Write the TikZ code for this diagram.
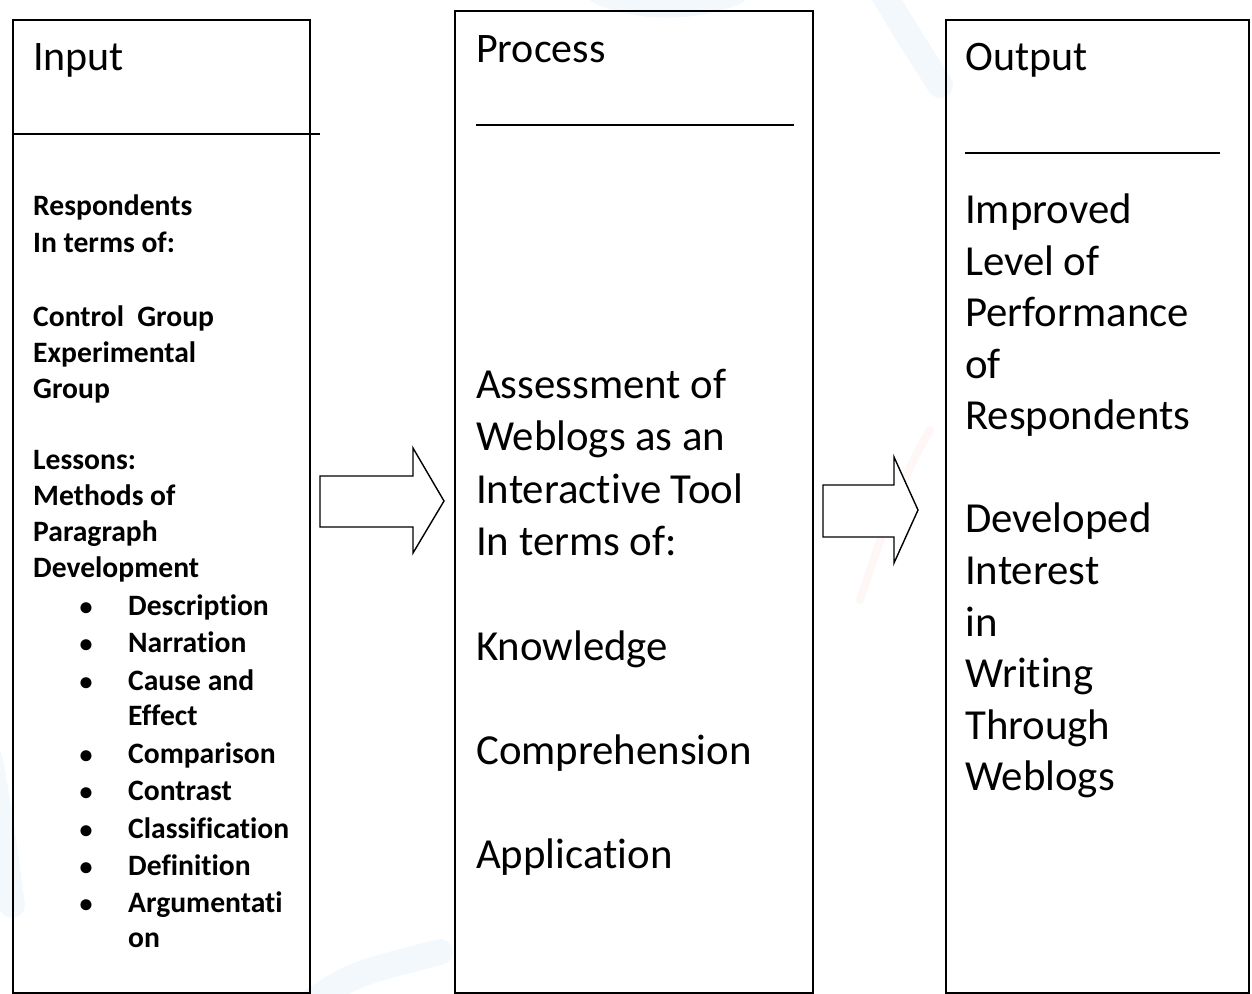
\documentclass[tikz,border=0pt]{standalone}
\usepackage{fontspec}
\setmainfont{Carlito}[Ligatures=NoCommon]
\begin{document}
\begin{tikzpicture}[x=1pt,y=-1pt,
  stagebox/.style={draw=black,line width=1.6pt,rectangle,inner sep=0pt,anchor=north west},
  rule/.style={draw=black,line width=1.6pt},
  blockarrow/.style={draw=black,line width=1.4pt,fill=white,line join=miter},
  headtext/.style={anchor=base west,inner sep=0pt,font=\fontsize{42}{50}\selectfont},
  bigtext/.style={anchor=base west,inner sep=0pt,font=\fontsize{42.8}{50}\selectfont},
  smalltext/.style={anchor=base west,inner sep=0pt,font=\fontsize{29.6}{36}\selectfont\bfseries},
  bulletmark/.style={anchor=base,inner sep=0pt,font=\fontsize{26}{36}\selectfont\bfseries},
  wmblue/.style={draw=blue!40!cyan!60!gray,opacity=0.06,line width=26pt,line cap=round},
  wmred/.style={draw=red!70,opacity=0.05,line width=8pt,line cap=round},
]
\useasboundingbox (0,0) rectangle (1252,993);

% faint background swirl
\draw[wmblue] (600,-8) .. controls (640,8) and (690,10) .. (735,-8);
\draw[wmblue] (880,-12) .. controls (905,30) .. (940,85);
\draw[wmblue] (300,1010) .. controls (350,975) .. (440,952);
\draw[wmblue] (-10,760) .. controls (2,830) .. (12,905);
\draw[wmred] (860,600) .. controls (880,540) and (900,480) .. (930,430);

% the three stage boxes
\node[stagebox,minimum width=297pt,minimum height=973pt] (input)   at (12,19)  {};
\node[stagebox,minimum width=358pt,minimum height=982pt] (process) at (454,10) {};
\node[stagebox,minimum width=303pt,minimum height=973pt] (output)  at (945,19) {};

% heading rules
\draw[rule] (input.north west |- 0,134) -- (320,134);
\draw[rule] (476,125) -- (794,125);
\draw[rule] (965,153) -- (1220,153);

% block arrows between the stages
\draw[blockarrow] (320,476) -- (413,476) -- (413,448) -- (444,501) -- (413,553) -- (413,527) -- (320,527) -- cycle;
\draw[blockarrow] (823,485) -- (894,485) -- (894,457) -- (918,510) -- (894,563) -- (894,537) -- (823,537) -- cycle;

% headings
\node[headtext] (inhead)   at (33,70)  {Input};
\node[headtext] (prochead) at (476,62) {Process};
\node[headtext] (outhead)  at (965,70) {Output};

% input column
\foreach \y/\t [count=\k] in {215/Respondents, 252/{In terms of:}, 326/{Control\ \ Group},
    362/Experimental, 398/Group, 469/Lessons:, 505/{Methods of}, 541/Paragraph,
    577/Development}
  \node[smalltext] (inL\k) at (33,\y) {\t};
\foreach \y/\t [count=\k] in {615/Description, 652/Narration, 690/{Cause and},
    763/Comparison, 800/Contrast, 838/Classification, 875/Definition, 912/Argumentati}
  {\node[bulletmark] (bul\k) at (86,\y) {•};
   \node[smalltext] (item\k) at (128,\y) {\t};}
\node[smalltext] (itemcont1) at (128,725) {Effect};
\node[smalltext] (itemcont2) at (128,947) {on};

% process column
\foreach \y/\t [count=\k] in {398/{Assessment of}, 450/{Weblogs as an}, 503/{Interactive Tool},
    555/{In terms of:}, 660/Knowledge, 764/Comprehension, 868/Application}
  \node[bigtext] (pr\k) at (476,\y) {\t};

% output column
\foreach \y/\t [count=\k] in {223/Improved, 275/{Level of}, 326/Performance, 378/of,
    429/Respondents, 532/Developed, 584/Interest, 636/in, 687/Writing, 739/Through, 790/Weblogs}
  \node[bigtext] (out\k) at (965,\y) {\t};
\end{tikzpicture}
\end{document}
